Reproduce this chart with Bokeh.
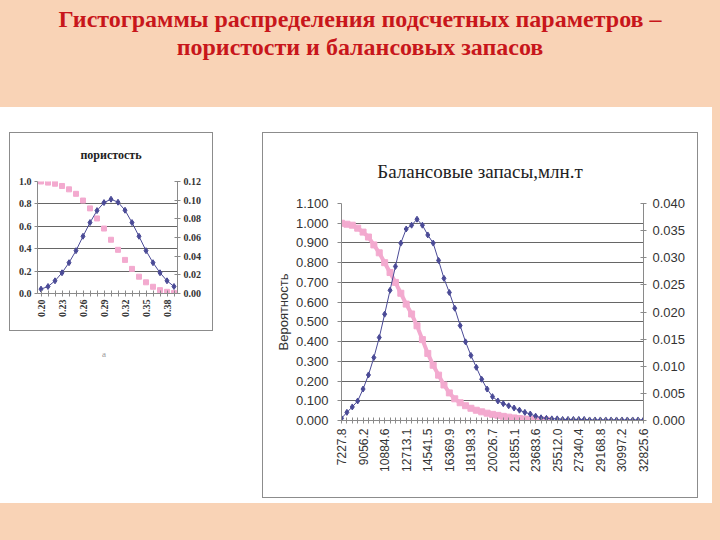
import math
from bokeh.plotting import figure
from bokeh.models import Range1d, LinearAxis, FixedTicker, Div, NumeralTickFormatter
from bokeh.layouts import column, row
from bokeh.embed import file_html
from bokeh.resources import INLINE

# ---------------- data ----------------
slide_title = "Гистограммы распределения подсчетных параметров –<br>пористости и балансовых запасов"

poro_title = "пористость"
poro_tick_labels = ["0.20", "0.23", "0.26", "0.29", "0.32", "0.35", "0.38"]
poro_density = [0.0047, 0.0075, 0.0136, 0.0222, 0.0330, 0.0459, 0.0613, 0.0760, 0.0888, 0.0974,
                0.1010, 0.0978, 0.0892, 0.0760, 0.0613, 0.0459, 0.0330, 0.0222, 0.0136, 0.0075]
poro_exceed = [1.00, 0.99, 0.98, 0.96, 0.93, 0.89, 0.83, 0.76, 0.67, 0.58,
               0.48, 0.39, 0.30, 0.22, 0.15, 0.10, 0.06, 0.03, 0.015, 0.005]
poro_left_ticks = [0.0, 0.2, 0.4, 0.6, 0.8, 1.0]
poro_right_ticks = [0.0, 0.02, 0.04, 0.06, 0.08, 0.10, 0.12]

res_title = "Балансовые запасы,млн.т"
res_ylabel = "Вероятность"
res_tick_labels = ["7227.8", "9056.2", "10884.6", "12713.1", "14541.5", "16369.9", "18198.3",
                   "20026.7", "21855.1", "23683.6", "25512.0", "27340.4", "29168.8", "30997.2",
                   "32825.6"]
res_density = [0.0004, 0.0015, 0.0025, 0.0036, 0.0058, 0.0084, 0.0116, 0.0153, 0.0196, 0.0240,
               0.0284, 0.0327, 0.0353, 0.0360, 0.0371, 0.0360, 0.0342, 0.0327, 0.0295, 0.0262,
               0.0236, 0.0207, 0.0175, 0.0145, 0.0120, 0.0098, 0.0076, 0.0058, 0.0044, 0.0036,
               0.0031, 0.0027, 0.0023, 0.0019, 0.0015, 0.0012, 0.0008, 0.0005, 0.0004, 0.0003,
               0.0003, 0.0002, 0.0002, 0.0002, 0.0002, 0.0002, 0.0001, 0.0001, 0.0001, 0.0001,
               0.0001, 0.0001, 0.0001, 0.0001, 0.0001, 0.0001, 0.0001]
res_exceed = [1.000, 0.995, 0.990, 0.975, 0.955, 0.930, 0.890, 0.850, 0.800, 0.750,
              0.700, 0.645, 0.590, 0.540, 0.480, 0.410, 0.340, 0.280, 0.230, 0.180,
              0.140, 0.110, 0.090, 0.075, 0.062, 0.052, 0.044, 0.037, 0.031, 0.026,
              0.021, 0.017, 0.013, 0.010, 0.007, 0.005, 0.003, 0.002, 0.001]
res_left_ticks = [0.0, 0.1, 0.2, 0.3, 0.4, 0.5, 0.6, 0.7, 0.8, 0.9, 1.0, 1.1]
res_right_ticks = [0.0, 0.005, 0.010, 0.015, 0.020, 0.025, 0.030, 0.035, 0.040]

# ---------------- style ----------------
PEACH = "#F9D3B6"
TITLE_RED = "#C8161B"
BLUE = "#4A4A96"
PINK = "#F3AACF"
GRID = "#666666"
AXIS = "#8a8a8a"
TXT = "#333333"
BOX = {"outline": "1px solid #8c8c8c", "background-color": "white"}

# ---------------- left chart (porosity) ----------------
n_p = len(poro_density)
xp = list(range(n_p))
step_p = 3
p1 = figure(width=202, height=159, output_backend="svg", toolbar_location=None,
            x_range=Range1d(-0.5, n_p - 0.5), y_range=Range1d(0, 1.0),
            min_border_left=27, min_border_right=35, min_border_top=10, min_border_bottom=37,
            background_fill_color="white", border_fill_color="white", outline_line_color=None,
            margin=(0, 0, 0, 0))
p1.extra_y_ranges = {"dens": Range1d(0, 0.12)}

p1.xaxis.ticker = FixedTicker(ticks=xp)
p1.xaxis.major_label_overrides = {i: (poro_tick_labels[i // step_p] if i % step_p == 0 and i // step_p < len(poro_tick_labels) else "") for i in xp}
p1.xaxis.major_label_orientation = math.pi / 2
p1.xaxis.major_tick_in = 3
p1.xaxis.major_tick_out = 3
p1.xaxis.minor_tick_line_color = None
p1.xaxis.major_label_standoff = 3
p1.xaxis.major_label_text_font = "Liberation Serif"
p1.xaxis.major_label_text_font_size = "10px"
p1.xaxis.major_label_text_font_style = "bold"
p1.xaxis.major_label_text_color = TXT
p1.xaxis.axis_line_color = AXIS
p1.xaxis.major_tick_line_color = AXIS

p1.yaxis.ticker = FixedTicker(ticks=poro_left_ticks)
p1.yaxis.formatter = NumeralTickFormatter(format="0.0")
p1.yaxis.major_tick_in = 0
p1.yaxis.major_tick_out = 3
p1.yaxis.minor_tick_line_color = None
p1.yaxis.major_label_standoff = 3
p1.yaxis.major_label_text_font = "Liberation Serif"
p1.yaxis.major_label_text_font_size = "10px"
p1.yaxis.major_label_text_font_style = "bold"
p1.yaxis.major_label_text_color = TXT
p1.yaxis.axis_line_color = AXIS
p1.yaxis.major_tick_line_color = AXIS

ax1r = LinearAxis(y_range_name="dens", ticker=FixedTicker(ticks=poro_right_ticks),
                  formatter=NumeralTickFormatter(format="0.00"))
ax1r.major_tick_in = 3
ax1r.major_tick_out = 3
ax1r.minor_tick_line_color = None
ax1r.major_label_standoff = 3
ax1r.major_label_text_font = "Liberation Serif"
ax1r.major_label_text_font_size = "10px"
ax1r.major_label_text_font_style = "bold"
ax1r.major_label_text_color = TXT
ax1r.axis_line_color = AXIS
ax1r.major_tick_line_color = AXIS
p1.add_layout(ax1r, "right")

p1.xgrid.visible = False
p1.ygrid.ticker = FixedTicker(ticks=[0.2, 0.4, 0.6, 0.8])
p1.ygrid.grid_line_color = GRID
p1.ygrid.grid_line_width = 1

p1.scatter(xp, poro_exceed, marker="square", size=5, color=PINK)
p1.line(xp, poro_density, y_range_name="dens", color=BLUE, line_width=1)
p1.scatter(xp, poro_density, y_range_name="dens", marker="diamond", size=6, color=BLUE)

t1 = Div(text=poro_title, width=202, height=38, margin=(0, 0, 0, 0),
         styles={"text-align": "center", "font-family": "Liberation Serif", "font-weight": "bold",
                 "font-size": "12px", "line-height": "14px", "padding-top": "15px",
                 "color": "#222222", "width": "202px", "box-sizing": "border-box"})
box1 = column(t1, p1, width=202, height=197, spacing=0, styles=BOX, margin=(0, 0, 0, 0))

a_div = Div(text="а", width=202, height=14, margin=(18, 0, 0, 0),
            styles={"color": "#999999", "font-size": "9px", "font-family": "Liberation Serif",
                    "padding-left": "92px"})
left_col = column(box1, a_div, width=202, margin=(26, 0, 0, 10), spacing=0)

# ---------------- right chart (reserves) ----------------
n_r = len(res_density)
xr = list(range(n_r))
step_r = 4
p2 = figure(width=434, height=304, output_backend="svg", toolbar_location=None,
            x_range=Range1d(0, n_r - 1), y_range=Range1d(0, 1.1),
            min_border_left=78, min_border_right=54, min_border_top=10, min_border_bottom=77,
            background_fill_color="white", border_fill_color="white", outline_line_color=None,
            margin=(0, 0, 0, 0))
p2.extra_y_ranges = {"dens": Range1d(0, 0.04)}

p2.xaxis.ticker = FixedTicker(ticks=xr)
p2.xaxis.major_label_overrides = {i: (res_tick_labels[i // step_r] if i % step_r == 0 and i // step_r < len(res_tick_labels) else "") for i in xr}
p2.xaxis.major_label_orientation = math.pi / 2
p2.xaxis.major_tick_in = 3
p2.xaxis.major_tick_out = 3
p2.xaxis.minor_tick_line_color = None
p2.xaxis.major_label_standoff = 5
p2.xaxis.major_label_text_font = "Liberation Sans"
p2.xaxis.major_label_text_font_size = "12px"
p2.xaxis.major_label_text_color = TXT
p2.xaxis.axis_line_color = AXIS
p2.xaxis.major_tick_line_color = AXIS

p2.yaxis.ticker = FixedTicker(ticks=res_left_ticks)
p2.yaxis.formatter = NumeralTickFormatter(format="0.000")
p2.yaxis.major_tick_in = 0
p2.yaxis.major_tick_out = 4
p2.yaxis.minor_tick_line_color = None
p2.yaxis.major_label_standoff = 9
p2.yaxis.major_label_text_font = "Liberation Sans"
p2.yaxis.major_label_text_font_size = "13px"
p2.yaxis.major_label_text_color = TXT
p2.yaxis.axis_line_color = AXIS
p2.yaxis.major_tick_line_color = AXIS
p2.yaxis.axis_label = res_ylabel
p2.yaxis.axis_label_text_font = "Liberation Sans"
p2.yaxis.axis_label_text_font_size = "13px"
p2.yaxis.axis_label_text_font_style = "normal"
p2.yaxis.axis_label_text_color = TXT
p2.yaxis.axis_label_standoff = 2

ax2r = LinearAxis(y_range_name="dens", ticker=FixedTicker(ticks=res_right_ticks),
                  formatter=NumeralTickFormatter(format="0.000"))
ax2r.major_tick_in = 3
ax2r.major_tick_out = 3
ax2r.minor_tick_line_color = None
ax2r.major_label_standoff = 6
ax2r.major_label_text_font = "Liberation Sans"
ax2r.major_label_text_font_size = "13px"
ax2r.major_label_text_color = TXT
ax2r.axis_line_color = AXIS
ax2r.major_tick_line_color = AXIS
p2.add_layout(ax2r, "right")

p2.xgrid.visible = False
p2.ygrid.ticker = FixedTicker(ticks=res_left_ticks[1:-1])
p2.ygrid.grid_line_color = GRID
p2.ygrid.grid_line_width = 1

xr_pink = list(range(len(res_exceed)))
p2.line(xr_pink, res_exceed, color=PINK, line_width=4)
p2.scatter(xr_pink, res_exceed, marker="square", size=6, color=PINK)
p2.line(xr, res_density, y_range_name="dens", color=BLUE, line_width=1)
p2.scatter(xr, res_density, y_range_name="dens", marker="diamond", size=6, color=BLUE)

t2 = Div(text=res_title, width=434, height=60, margin=(0, 0, 0, 0),
         styles={"text-align": "center", "font-family": "Liberation Serif",
                 "font-size": "19px", "line-height": "22px", "padding-top": "28px",
                 "color": "#222222", "width": "434px", "box-sizing": "border-box"})
box2 = column(t2, p2, width=434, height=364, spacing=0, styles=BOX, margin=(26, 0, 0, 51))

# ---------------- page ----------------
title_div = Div(text=slide_title, width=720, height=107, margin=(0, 0, 0, 0),
                styles={"text-align": "center", "font-family": "Liberation Serif",
                        "font-weight": "bold", "font-size": "24px", "color": TITLE_RED,
                        "line-height": "28px", "padding-top": "5px", "width": "720px"})
mid = row(left_col, box2, width=712, height=396, spacing=0, margin=(0, 8, 0, 0),
          styles={"background-color": "white"})
root = column(title_div, mid, width=720, height=540, spacing=0,
              styles={"background-color": PEACH})

open("out.html", "w").write(file_html(root, INLINE))
